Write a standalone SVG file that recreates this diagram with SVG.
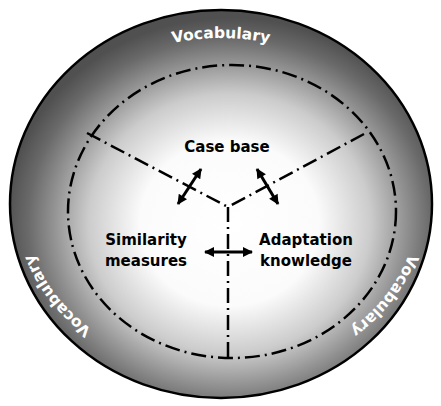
<svg xmlns="http://www.w3.org/2000/svg" width="441" height="406" viewBox="0 0 441 406">
<style>
.lbl{font-family:"DejaVu Sans","Liberation Sans",sans-serif;font-weight:bold;font-size:15px;fill:#000}
.voc{font-family:"DejaVu Sans","Liberation Sans",sans-serif;font-weight:bold;font-size:15.5px;fill:#fff;text-anchor:middle}
.dd{fill:none;stroke:#000;stroke-width:2.5;stroke-dasharray:15 5 2 5}
.arr{fill:none;stroke:#000;stroke-width:3;marker-start:url(#ah);marker-end:url(#ah)}
</style>
<defs>
<radialGradient id="bg" cx="0.52" cy="0.55" r="0.53">
<stop offset="0" stop-color="#fff"/>
<stop offset="0.4" stop-color="#fbfbfb"/>
<stop offset="0.63" stop-color="#cccccc"/>
<stop offset="0.78" stop-color="#959595"/>
<stop offset="0.9" stop-color="#6a6a6a"/>
<stop offset="1" stop-color="#505050"/>
</radialGradient>
<marker id="ah" viewBox="0 0 10 10" refX="9" refY="5" markerWidth="11" markerHeight="10" markerUnits="userSpaceOnUse" orient="auto-start-reverse">
<path d="M0,0 L10,5 L0,10 z" fill="#000"/>
</marker>
<path id="vp" d="M24,204 A197 166 0 0 1 418,204 A197 166 0 0 1 24,204"/>
</defs>
<g id="vocabulary">
<ellipse cx="221" cy="204" rx="211" ry="194" fill="url(#bg)" stroke="#000" stroke-width="2.5"/>
<text class="voc"><textPath href="#vp" startOffset="25%">Vocabulary</textPath></text>
<text class="voc"><textPath href="#vp" startOffset="58.7%">Vocabulary</textPath></text>
<text class="voc"><textPath href="#vp" startOffset="91.3%">Vocabulary</textPath></text>
</g>
<g id="boundary">
<ellipse cx="232" cy="211.5" rx="164" ry="146.5" class="dd"/>
</g>
<g id="case-base">
<text class="lbl" x="227" y="152" text-anchor="middle">Case base</text>
</g>
<g id="similarity-measures">
<text class="lbl" x="146" y="245" text-anchor="middle">Similarity</text>
<text class="lbl" x="146" y="266" text-anchor="middle">measures</text>
</g>
<g id="adaptation-knowledge">
<text class="lbl" x="306" y="245" text-anchor="middle">Adaptation</text>
<text class="lbl" x="306" y="266" text-anchor="middle">knowledge</text>
</g>
<g id="connectors">
<path class="dd" d="M87,133 L228,207"/>
<path class="dd" d="M364,134 L228,207"/>
<path class="dd" d="M228,207 L228,358"/>
<path class="arr" d="M178,204 L201,169"/>
<path class="arr" d="M257,169 L278,204"/>
<path class="arr" d="M205,252 L252,252"/>
</g>
</svg>
